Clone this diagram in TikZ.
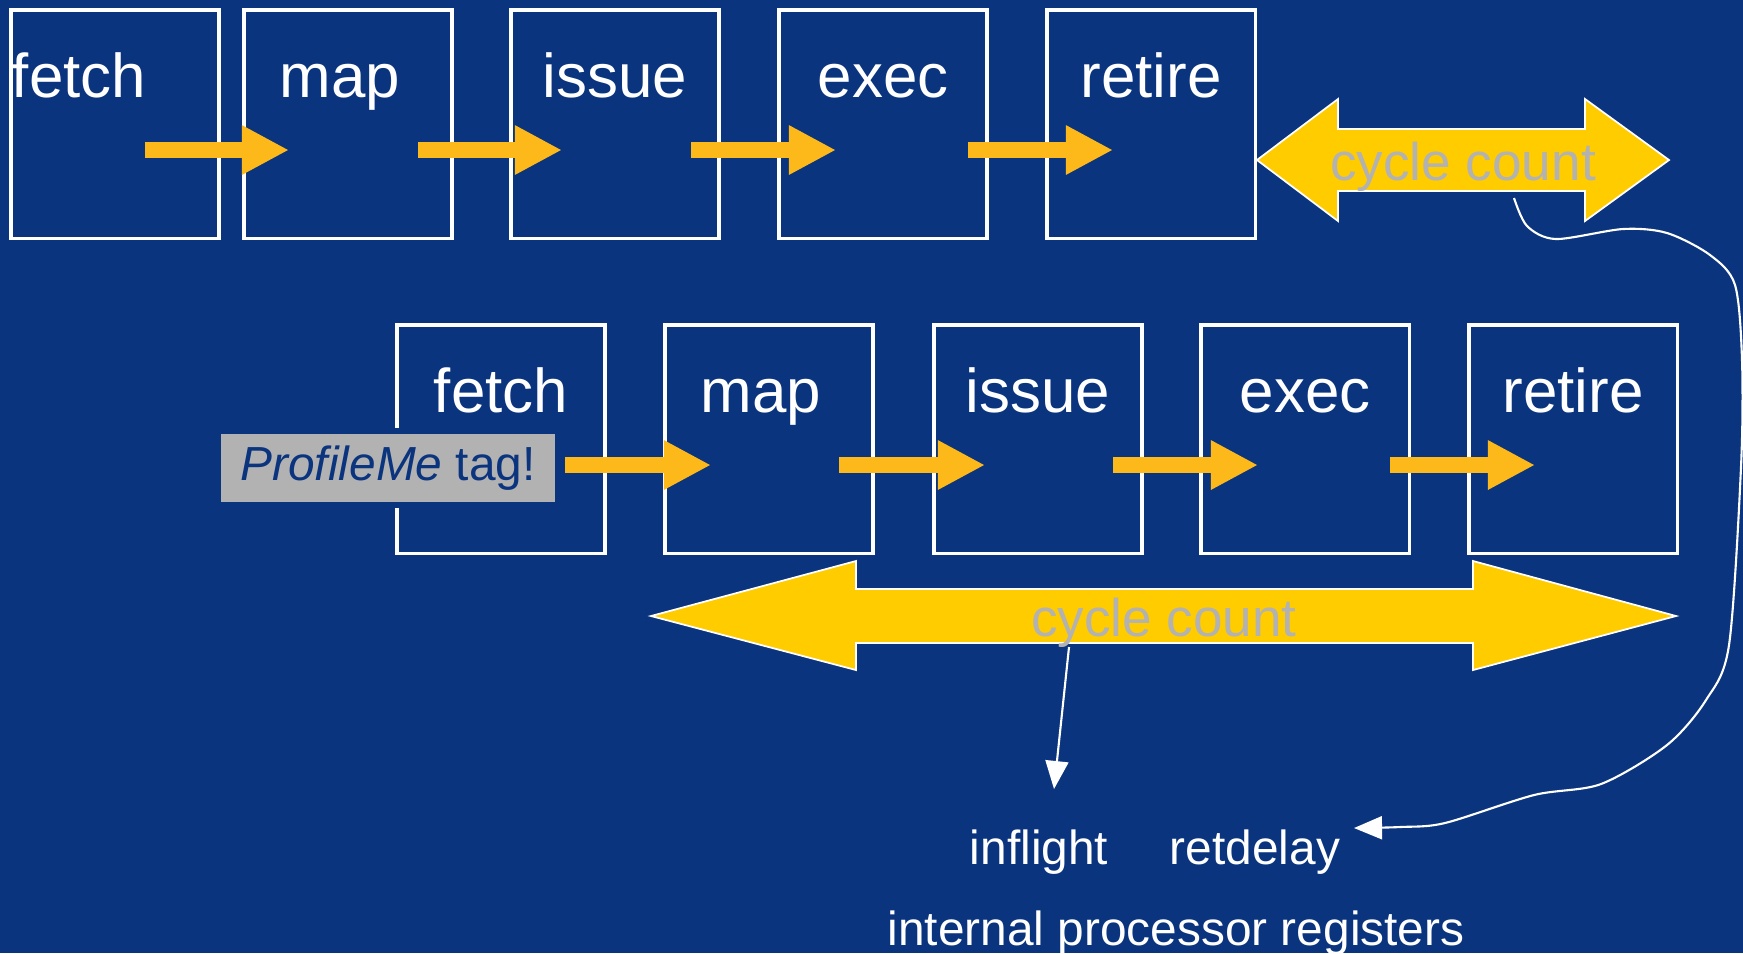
\documentclass[tikz,border=0pt]{standalone}
\usepackage{fontspec}
\setmainfont{Liberation Sans}
\usetikzlibrary{arrows.meta,calc}

\definecolor{slide}{RGB}{11,52,126}
\definecolor{amber}{RGB}{253,185,25}
\definecolor{gold}{RGB}{255,204,0}
\definecolor{tagfill}{RGB}{178,178,178}

\begin{document}
\begin{tikzpicture}[x = 0.01cm, y = 0.01cm,
    stage/.style = {rectangle, draw = white, line width = 0.9pt, minimum width = 2.08cm, minimum height = 2.28cm, inner sep = 0pt},
    stagename/.style = {text = white, font = \fontsize{17.6}{20}\selectfont, inner sep = 0pt, anchor = base},
    flow/.style = {amber, line width = 0.16cm, -{Triangle[length = 0.47cm, width = 0.46cm]}},
    spanarrow/.style = {fill = gold, draw = white, line width = 0.5pt},
    cyclelabel/.style = {text = tagfill, font = \fontsize{15.1}{18}\selectfont, inner sep = 0pt, anchor = base},
    reg/.style = {text = white, font = \fontsize{13.6}{16}\selectfont, inner sep = 0pt, anchor = base},
    tag/.style = {fill = tagfill, draw = slide, line width = 0.06cm, text = slide, font = \fontsize{13.6}{16}\selectfont, minimum width = 3.40cm, minimum height = 0.74cm, inner sep = 0pt},
    pen/.style = {white, line width = 0.6pt, -{Triangle[length = 0.28cm, width = 0.23cm]}}]
  \useasboundingbox (0,0) rectangle (1743,-953);
  \fill[slide] (0,0) rectangle (1743,-953);

  % first instruction in the pipe
  \foreach \n/\x in {f1/115, m1/348, i1/615, e1/883, r1/1151}
    \node [stage] (\n) at (\x,-124){};
  % second, sampled instruction
  \foreach \n/\x in {f2/501, m2/769, i2/1038, e2/1305, r2/1573}
    \node [stage] (\n) at (\x,-439){};

  \foreach \n/\t/\dx in {f1/fetch/-36, m1/map/-8, i1/issue/0, e1/exec/0, r1/retire/0,
                         f2/fetch/0, m2/map/-8, i2/issue/0, e2/exec/0, r2/retire/0}
    \node [stagename] (\n t) at ($(\n.center)+(\dx,27)$){\t};

  \foreach \a/\b/\da/\db in {f1/m1/30/-59, m1/i1/70/-53, i1/e1/76/-47, e1/r1/85/-38,
                             f2/m2/64/-58, m2/i2/70/-53, i2/e2/75/-47, e2/r2/85/-38}
    \draw [flow] ($(\a.center)+(\da,-26)$) -- ($(\b.center)+(\db,-26)$);

  \node [tag] (pm) at (388,-468){\textit{ProfileMe} tag!};

  % cycle counters
  \filldraw [spanarrow] (1257,-160) -- (1338,-99) -- (1338,-129) -- (1585,-129) -- (1585,-99)
    -- (1669,-160) -- (1585,-221) -- (1585,-191) -- (1338,-191) -- (1338,-221) -- cycle;
  \node [cyclelabel] (cc1) at (1463,-180){cycle count};
  \filldraw [spanarrow] (651,-616) -- (856,-561) -- (856,-589) -- (1473,-589) -- (1473,-561)
    -- (1676,-616) -- (1473,-670) -- (1473,-643) -- (856,-643) -- (856,-670) -- cycle;
  \node [cyclelabel] (cc2) at (1164,-636){cycle count};

  % registers
  \node [reg] (inflight) at (1039,-864){inflight};
  \node [reg] (retdelay) at (1255,-864){retdelay};
  \node [reg] (regs) at (1176,-945){internal processor registers};

  \coordinate (c1out) at (1514,-198);
  \coordinate (c2out) at (1069,-647);
  \coordinate (ifin) at (1054,-789);
  \coordinate (rdin) at (1354,-828);
  \draw [pen] (c2out) -- (ifin);
  \draw [pen] plot [smooth, tension = 0.5] coordinates {(c1out) (1527,-226) (1556,-239) (1623,-229)
    (1667,-233) (1710,-255) (1735,-285) (1742,-360) (1741,-467) (1729,-645) (1706,-700)
    (1667,-745) (1601,-784) (1534,-795) (1445,-823) (1400,-827) (rdin)};
\end{tikzpicture}
\end{document}
